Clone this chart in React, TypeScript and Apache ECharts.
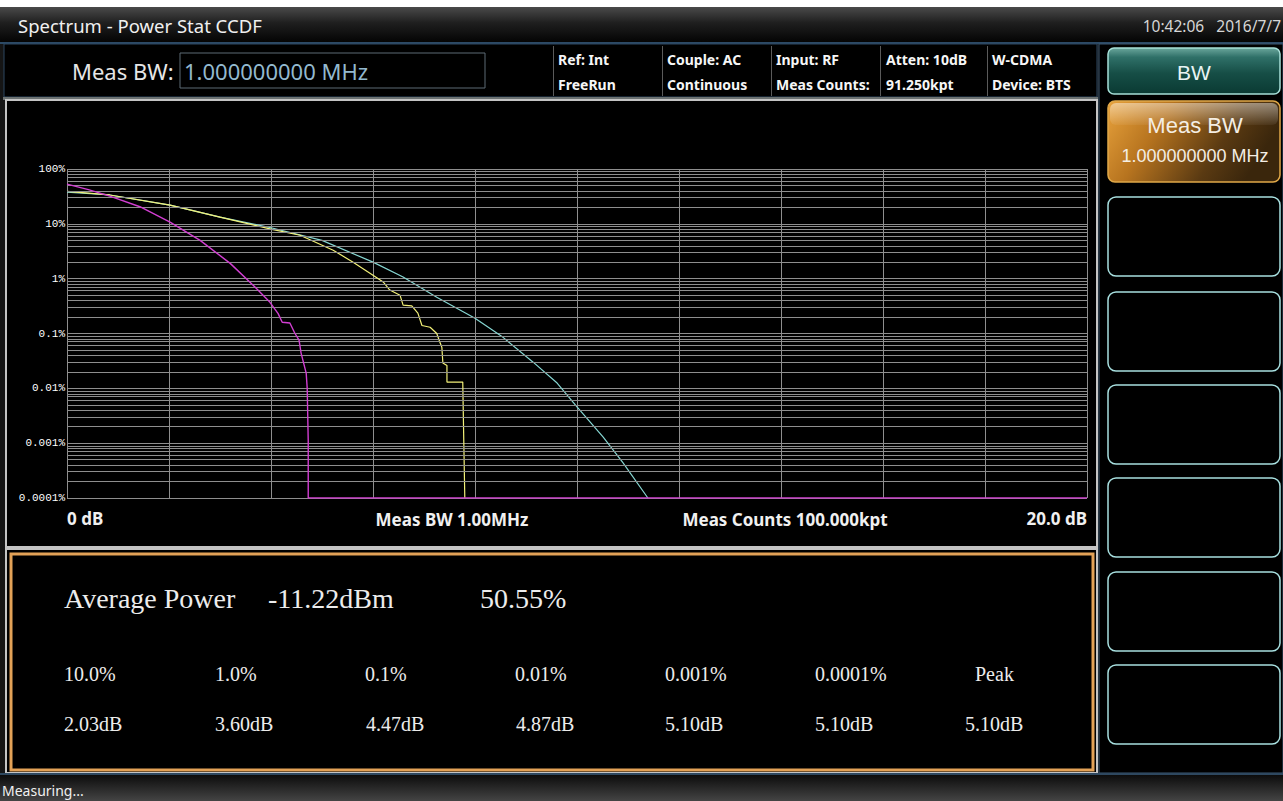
import React, { useEffect, useRef } from 'react';
import * as echarts from 'echarts';

// ---- Data ----
const yTickLabels = ['0.0001%', '0.001%', '0.01%', '0.1%', '1%', '10%', '100%'];

// Cyan trace (x in dB, y in %)
const cyanDb = [0, 0.84, 2.02, 3.0, 4.02, 5.0, 6.0, 6.59, 7.25, 8.0, 8.55, 9.14, 9.61, 10.0, 10.51, 10.9, 11.39];
const cyanPct = [38, 33.6, 22, 13.3, 8.4, 5.0, 2.0, 1.07, 0.46, 0.19, 0.085, 0.03, 0.0125, 0.0046, 0.0013, 0.00044, 0.0001];

// Yellow trace
const yellowDb = [0, 0.84, 2.02, 3.0, 4.02, 4.57, 5.22, 5.61, 5.94, 6.2, 6.33, 6.53, 6.59, 6.76, 6.88, 6.96, 7.12, 7.25, 7.31, 7.35, 7.37, 7.45, 7.45, 7.76, 7.78, 7.8];
const yellowPct = [39, 33.6, 22, 13.3, 7.9, 6.2, 3.3, 2.0, 1.26, 0.87, 0.62, 0.5, 0.33, 0.32, 0.235, 0.14, 0.13, 0.1, 0.07, 0.056, 0.029, 0.026, 0.013, 0.013, 0.0011, 0.0001];

// Magenta trace
const magentaDb = [0, 0.42, 0.84, 1.43, 2.02, 2.61, 3.2, 3.65, 3.98, 4.14, 4.22, 4.37, 4.47, 4.55, 4.59, 4.69, 4.71, 4.73, 4.73, 20];
const magentaPct = [53, 42, 32, 20.5, 10.7, 5.0, 1.9, 0.76, 0.37, 0.23, 0.16, 0.155, 0.1, 0.076, 0.044, 0.019, 0.01, 0.0011, 0.0001, 0.0001];

const xLabelLeft = '0 dB';
const xLabelRight = '20.0 dB';
const xCenterLabels = ['Meas BW 1.00MHz', 'Meas Counts 100.000kpt'];

const infoRow1 = ['Ref: Int', 'Couple: AC', 'Input: RF', 'Atten: 10dB', 'W-CDMA'];
const infoRow2 = ['FreeRun', 'Continuous', 'Meas Counts:', '91.250kpt', 'Device: BTS'];

const avgPowerLabel = 'Average Power';
const avgPowerValue = '-11.22dBm';
const avgPowerPct = '50.55%';
const statLabels = ['10.0%', '1.0%', '0.1%', '0.01%', '0.001%', '0.0001%', 'Peak'];
const statValues = ['2.03dB', '3.60dB', '4.47dB', '4.87dB', '5.10dB', '5.10dB', '5.10dB'];

const W = 1283;
const H = 801;
const SANS = "'Noto Sans', 'Open Sans', sans-serif";
const ARIAL = "'Liberation Sans', Arial, sans-serif";
const SERIF = "'Liberation Serif', 'DejaVu Serif', serif";

function pairs(xs: number[], ys: number[]) {
  return xs.map((x, i) => [x, Math.log10(ys[i])]);
}

function vGrad(stops: [number, string][]) {
  return new echarts.graphic.LinearGradient(0, 0, 0, 1, stops.map(([offset, color]) => ({ offset, color })));
}

function buildGraphics() {
  const g: any[] = [];
  const bg = (el: any) => { el.z = -20; g.push(el); };
  const fg = (el: any) => { el.z = 50; g.push(el); };

  // backgrounds
  bg({ type: 'rect', shape: { x: 0, y: 0, width: W, height: H }, style: { fill: '#151515' } });
  bg({ type: 'rect', shape: { x: 0, y: 0, width: W, height: 7 }, style: { fill: '#ffffff' } });
  bg({ type: 'rect', shape: { x: 0, y: 7, width: W, height: 35 }, style: { fill: vGrad([[0, '#4a4a4a'], [0.45, '#1f1f1f'], [1, '#040404']]) } });
  bg({ type: 'rect', shape: { x: 0, y: 42, width: W, height: 2 }, style: { fill: '#2c4a66' } });

  // info row
  bg({ type: 'rect', shape: { x: 4, y: 44, width: 1093, height: 53 }, style: { fill: '#000', stroke: '#2d4760', lineWidth: 1 } });
  bg({ type: 'rect', shape: { x: 3, y: 97, width: 1095, height: 3 }, style: { fill: '#6c7272' } });
  fg({ type: 'rect', shape: { x: 180, y: 53, width: 305, height: 35 }, style: { fill: 'none', stroke: '#5d6a74', lineWidth: 1 } });
  fg({ type: 'text', x: 72, y: 71, style: { text: 'Meas BW:', font: `22px ${SANS}`, fill: '#e6e6e6', verticalAlign: 'middle' } });
  fg({ type: 'text', x: 184, y: 71, style: { text: '1.000000000 MHz', font: `22px ${SANS}`, fill: '#93b9cf', verticalAlign: 'middle' } });

  const sepX = [553, 662, 771, 880, 987];
  const colX = [558, 667, 776, 886, 992];
  sepX.forEach((x) => {
    fg({ type: 'rect', shape: { x, y: 46, width: 1, height: 50 }, style: { fill: '#5a5a5a' } });
  });
  infoRow1.forEach((t, i) => {
    fg({ type: 'text', x: colX[i], y: 59, style: { text: t, font: `bold 14px ${SANS}`, fill: '#f6f6f6', verticalAlign: 'middle' } });
  });
  infoRow2.forEach((t, i) => {
    fg({ type: 'text', x: colX[i], y: 84, style: { text: t, font: `bold 14px ${SANS}`, fill: '#f6f6f6', verticalAlign: 'middle' } });
  });

  // title
  fg({ type: 'text', x: 18, y: 25, style: { text: 'Spectrum - Power Stat CCDF', font: `18.5px ${SANS}`, fill: '#f0f0f0', verticalAlign: 'middle' } });
  fg({ type: 'text', x: 1281, y: 26, style: { text: '10:42:06   2016/7/7', font: `15.5px ${SANS}`, fill: '#d6d6d6', align: 'right', verticalAlign: 'middle' } });

  // chart panel
  bg({ type: 'rect', shape: { x: 6, y: 100, width: 1091, height: 447 }, style: { fill: '#000', stroke: '#c4c4c4', lineWidth: 2 } });
  // results panel
  bg({ type: 'rect', shape: { x: 6, y: 549, width: 1091, height: 224 }, style: { fill: '#000', stroke: '#c4c4c4', lineWidth: 2 } });
  fg({ type: 'rect', shape: { x: 11, y: 554, width: 1082, height: 216 }, style: { fill: 'none', stroke: '#e3a257', lineWidth: 3 } });

  // right panel
  bg({ type: 'rect', shape: { x: 1099, y: 44, width: 184, height: 729 }, style: { fill: '#000', stroke: '#3a5670', lineWidth: 1 } });

  // BW button
  fg({ type: 'rect', shape: { x: 1108, y: 48, width: 172, height: 46, r: 6 }, style: { fill: vGrad([[0, '#6aa69c'], [0.2, '#2f7068'], [0.55, '#164e46'], [1, '#0a3a33']]), stroke: '#a6e0d8', lineWidth: 1.5 } });
  fg({ type: 'text', x: 1194, y: 72, style: { text: 'BW', font: `21px ${ARIAL}`, fill: '#e8f4f4', align: 'center', verticalAlign: 'middle' } });

  // Meas BW button
  fg({ type: 'rect', shape: { x: 1108, y: 101, width: 172, height: 81, r: 7 }, style: { fill: new echarts.graphic.LinearGradient(0, 0, 1, 0.3, [{ offset: 0, color: '#e8a23c' }, { offset: 0.35, color: '#b7741f' }, { offset: 0.75, color: '#5a3a12' }, { offset: 1, color: '#3a260c' }]), stroke: '#e0a848', lineWidth: 1.5 } });
  fg({ type: 'rect', shape: { x: 1110, y: 103, width: 168, height: 22, r: 6 }, style: { fill: vGrad([[0, 'rgba(255,255,255,0.45)'], [1, 'rgba(255,255,255,0.05)']]) } });
  fg({ type: 'text', x: 1195, y: 125, style: { text: 'Meas BW', font: `22px ${ARIAL}`, fill: '#f4eee4', align: 'center', verticalAlign: 'middle' } });
  fg({ type: 'text', x: 1195, y: 156, style: { text: '1.000000000 MHz', font: `18px ${ARIAL}`, fill: '#f4eee4', align: 'center', verticalAlign: 'middle' } });

  // empty softkeys
  [197, 292, 385, 478, 572, 665].forEach((y) => {
    fg({ type: 'rect', shape: { x: 1108, y, width: 172, height: 79, r: 8 }, style: { fill: '#000', stroke: '#a8e0e0', lineWidth: 1.5 } });
  });

  // status bar
  bg({ type: 'rect', shape: { x: 0, y: 773, width: W, height: 2 }, style: { fill: '#2e4860' } });
  bg({ type: 'rect', shape: { x: 0, y: 775, width: W, height: 26 }, style: { fill: vGrad([[0, '#0c0c0c'], [1, '#444444']]) } });
  fg({ type: 'text', x: 2, y: 790, style: { text: 'Measuring...', font: `14px ${SANS}`, fill: '#f0f0f0', verticalAlign: 'middle' } });

  // chart x labels in the middle
  fg({ type: 'text', x: 452, y: 519, style: { text: xCenterLabels[0], font: `bold 17px ${SANS}`, fill: '#f0f0f0', align: 'center', verticalAlign: 'middle' } });
  fg({ type: 'text', x: 785, y: 519, style: { text: xCenterLabels[1], font: `bold 17px ${SANS}`, fill: '#f0f0f0', align: 'center', verticalAlign: 'middle' } });

  // results
  fg({ type: 'text', x: 64, y: 598, style: { text: avgPowerLabel, font: `28px ${SERIF}`, fill: '#ececec', verticalAlign: 'middle' } });
  fg({ type: 'text', x: 268, y: 598, style: { text: avgPowerValue, font: `28px ${SERIF}`, fill: '#ececec', verticalAlign: 'middle' } });
  fg({ type: 'text', x: 480, y: 598, style: { text: avgPowerPct, font: `28px ${SERIF}`, fill: '#ececec', verticalAlign: 'middle' } });
  const statX = [64, 215, 365, 515, 665, 815, 975];
  const valX = [64, 215, 366, 516, 665, 815, 965];
  statLabels.forEach((t, i) => {
    fg({ type: 'text', x: statX[i], y: 674, style: { text: t, font: `20px ${SERIF}`, fill: '#ececec', verticalAlign: 'middle' } });
  });
  statValues.forEach((t, i) => {
    fg({ type: 'text', x: valX[i], y: 724, style: { text: t, font: `20px ${SERIF}`, fill: '#ececec', verticalAlign: 'middle' } });
  });
  return g;
}

function buildMinorLines() {
  const lines: any[] = [];
  for (let d = -4; d < 2; d++) {
    for (let k = 2; k <= 9; k++) {
      lines.push({ yAxis: Math.log10(k) + d });
    }
  }
  return lines;
}

export default function App() {
  const ref = useRef<HTMLDivElement>(null);
  useEffect(() => {
    const chart = echarts.init(ref.current!, null, { renderer: 'svg' });
    const gridColor = '#8e8e8e';
    chart.setOption({
      animation: false,
      backgroundColor: '#151515',
      grid: { left: 67, top: 169, width: 1020, height: 329, containLabel: false },
      xAxis: {
        type: 'value', min: 0, max: 20, interval: 2,
        axisLine: { show: false }, axisTick: { show: false },
        splitLine: { show: true, lineStyle: { color: gridColor, width: 1 } },
        axisLabel: {
          show: true, margin: 12, color: '#f0f0f0', fontFamily: SANS, fontWeight: 'bold', fontSize: 17,
          alignMinLabel: 'left', alignMaxLabel: 'right',
          formatter: (v: number) => (v === 0 ? xLabelLeft : v === 20 ? xLabelRight : ''),
        },
      },
      yAxis: {
        type: 'value', min: -4, max: 2, interval: 1,
        axisLine: { show: false }, axisTick: { show: false },
        splitLine: { show: true, lineStyle: { color: gridColor, width: 1 } },
        axisLabel: {
          show: true, margin: 2, color: '#ffffff', fontFamily: "'Liberation Mono', 'DejaVu Sans Mono', monospace", fontSize: 11,
          formatter: (v: number) => yTickLabels[Math.round(v) + 4],
        },
      },
      graphic: { elements: buildGraphics() },
      series: [
        {
          type: 'line', data: [], z: 1, silent: true,
          markLine: {
            silent: true, symbol: ['none', 'none'], label: { show: false },
            lineStyle: { color: gridColor, width: 1, type: 'solid' },
            data: buildMinorLines(),
          },
        },
        { name: 'cyan', type: 'line', data: pairs(cyanDb, cyanPct), showSymbol: false, z: 3, lineStyle: { color: '#86d6d2', width: 1.2 } },
        { name: 'yellow', type: 'line', data: pairs(yellowDb, yellowPct), showSymbol: false, z: 4, lineStyle: { color: '#f2f078', width: 1.2 } },
        { name: 'magenta', type: 'line', data: pairs(magentaDb, magentaPct), showSymbol: false, z: 5, lineStyle: { color: '#d23ed2', width: 1.4 } },
      ],
    });
    return () => chart.dispose();
  }, []);
  return <div ref={ref} style={{ position: 'absolute', left: 0, top: 0, width: W, height: H }} />;
}
